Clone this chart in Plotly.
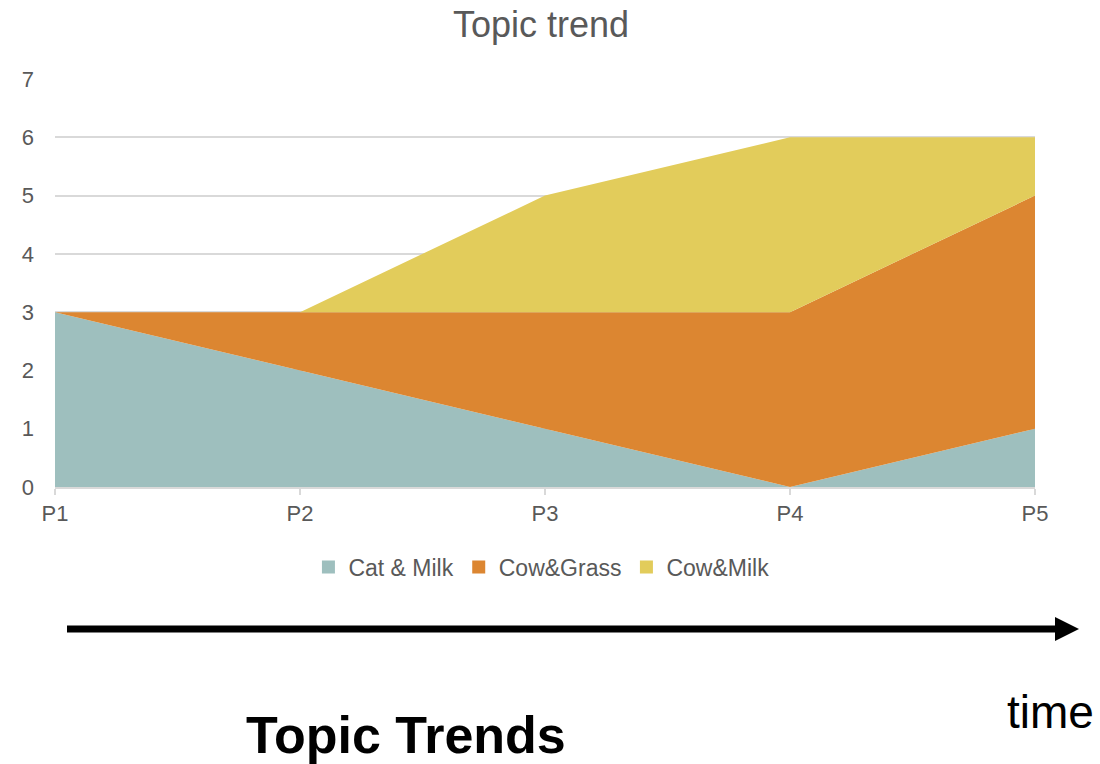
import plotly.graph_objects as go

periods = ["P1", "P2", "P3", "P4", "P5"]
cat_milk = [3, 2, 1, 0, 1]
cow_grass = [0, 1, 2, 3, 4]
cow_milk = [0, 0, 2, 3, 1]
series_names = ["Cat & Milk", "Cow&Grass", "Cow&Milk"]
series_colors = ["#9EBFBE", "#DC8631", "#E2CC5B"]
y_ticks = [0, 1, 2, 3, 4, 5, 6, 7]

W, H = 1100, 764
L, R, T, B = 55, 65, 79, 277
pw, ph = W - L - R, H - T - B

def px(x):
    return (x - L) / pw

def py(y):
    return (H - B - y) / ph

fig = go.Figure()
for name, vals, col in zip(series_names, [cat_milk, cow_grass, cow_milk], series_colors):
    fig.add_trace(go.Scatter(
        x=periods, y=vals, name=name, stackgroup="one", mode="lines",
        line=dict(width=0, color=col), fillcolor=col, showlegend=False,
    ))
# legend entries with square swatches
for name, col in zip(series_names, series_colors):
    fig.add_trace(go.Scatter(
        x=[None], y=[None], name=name, mode="markers",
        marker=dict(symbol="square", size=13, color=col), showlegend=True,
    ))

font_family = "Liberation Sans, Arial, sans-serif"
fig.update_layout(
    width=W, height=H,
    margin=dict(l=L, r=R, t=T, b=B),
    paper_bgcolor="white", plot_bgcolor="white",
    font=dict(family=font_family, color="#595959", size=22),
    title=dict(text="Topic trend", x=541 / W, xanchor="center", y=1 - 24 / H, yanchor="middle",
               font=dict(size=36, color="#595959")),
    xaxis=dict(type="category", range=[0, 4], showgrid=False, showline=True,
               linecolor="#D9D9D9", linewidth=2, ticks="outside", tickcolor="#D9D9D9",
               ticklen=6, tickwidth=2, tickfont=dict(size=22, color="#595959"), zeroline=False),
    yaxis=dict(range=[0, 7], tickvals=y_ticks, showgrid=True, gridcolor="#D9D9D9", gridwidth=1.5,
               showline=False, zeroline=False, ticks="", ticklabelstandoff=20,
               tickfont=dict(size=22, color="#595959")),
    legend=dict(orientation="h", x=546 / W, xanchor="center", xref="paper",
                y=py(567), yanchor="middle", font=dict(size=23, color="#595959"),
                itemwidth=30, traceorder="normal"),
    showlegend=True,
)

# arrow
fig.add_shape(type="line", xref="paper", yref="paper",
              x0=px(67), x1=px(1058), y0=py(629), y1=py(629),
              line=dict(color="black", width=7))
fig.add_shape(type="path", xref="paper", yref="paper",
              path=f"M {px(1055)} {py(617)} L {px(1079)} {py(629)} L {px(1055)} {py(641)} Z",
              fillcolor="black", line=dict(color="black", width=0))

fig.add_annotation(text="time", xref="paper", yref="paper", x=px(1050), y=py(712),
                   xanchor="center", yanchor="middle", showarrow=False,
                   font=dict(size=46, color="black", family=font_family))
fig.add_annotation(text="<b>Topic Trends</b>", xref="paper", yref="paper", x=px(406), y=py(735),
                   xanchor="center", yanchor="middle", showarrow=False,
                   font=dict(size=52, color="black", family=font_family))

fig.write_html("out.html")
